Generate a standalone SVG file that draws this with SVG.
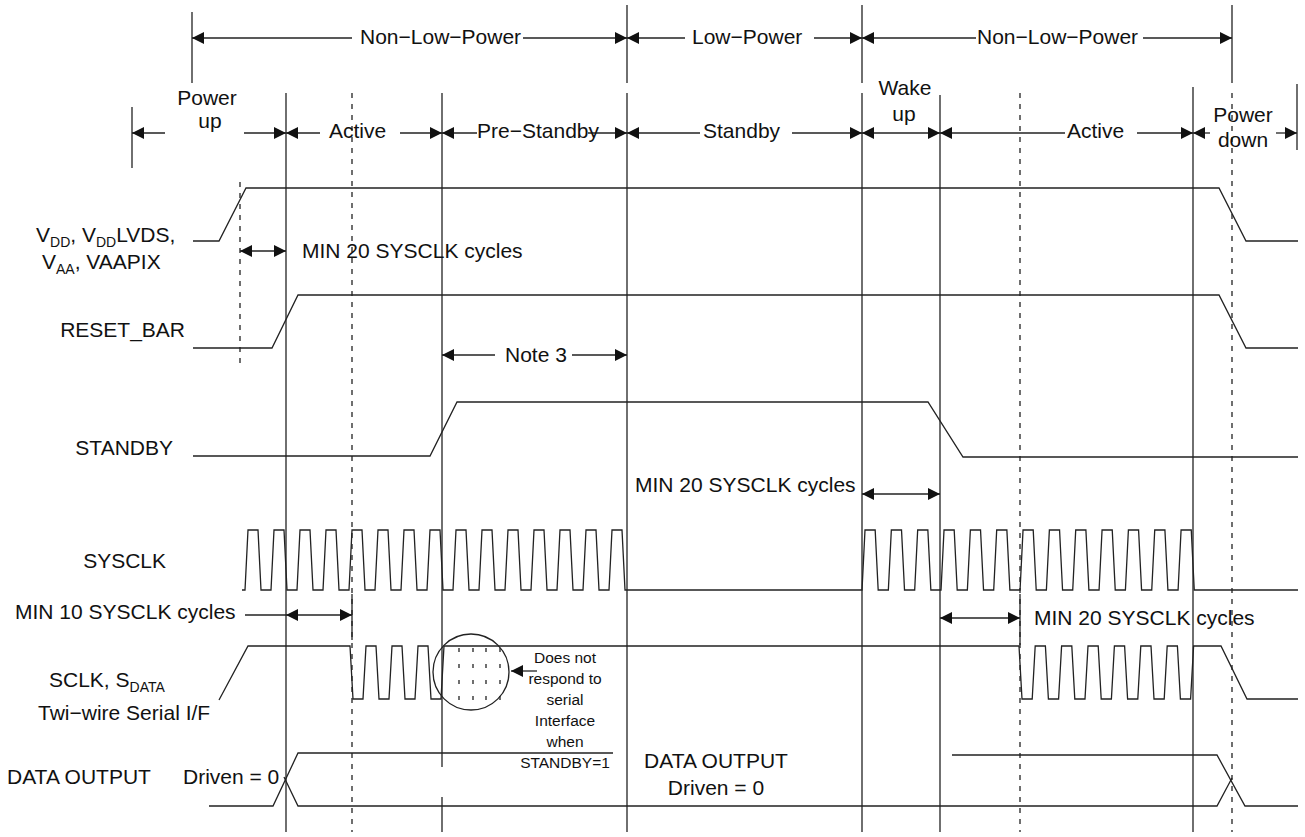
<svg xmlns="http://www.w3.org/2000/svg" width="1305" height="837" viewBox="0 0 1305 837">
<style>
.ln{stroke:#222;stroke-width:1.3;fill:none}
.dsh{stroke-dasharray:5 6}
.t{font-family:"Liberation Sans",Arial,Helvetica,sans-serif;font-size:21px;fill:#111}
.ts{font-size:15.5px}
.ar{stroke:#222;stroke-width:1.3;fill:none}
.s{marker-start:url(#ah)}
.e{marker-end:url(#ah)}
</style>
<defs>
<marker id="ah" viewBox="0 0 12 12" refX="12" refY="6" markerWidth="12" markerHeight="12" markerUnits="userSpaceOnUse" orient="auto-start-reverse">
<path d="M0,0 L12,6 L0,12 z" fill="#111"/>
</marker>
</defs>
<rect width="1305" height="837" fill="#fff"/>

<g id="grid">
<line class="ln" x1="192" y1="12" x2="192" y2="83"/>
<line class="ln" x1="627" y1="5" x2="627" y2="83"/>
<line class="ln" x1="862" y1="5" x2="862" y2="83"/>
<line class="ln" x1="1232" y1="5" x2="1232" y2="83"/>
<line class="ln" x1="132" y1="107" x2="132" y2="168"/>
<line class="ln" x1="1297" y1="84" x2="1297" y2="150"/>
<line class="ln" x1="286" y1="93" x2="286" y2="832"/>
<line class="ln" x1="442" y1="93" x2="442" y2="767"/>
<line class="ln" x1="442" y1="797" x2="442" y2="832"/>
<line class="ln" x1="627" y1="93" x2="627" y2="832"/>
<line class="ln" x1="862" y1="93" x2="862" y2="832"/>
<line class="ln" x1="940" y1="95" x2="940" y2="832"/>
<line class="ln" x1="1193" y1="87" x2="1193" y2="832"/>
<line class="ln dsh" x1="352" y1="93" x2="352" y2="832"/>
<line class="ln dsh" x1="1020" y1="93" x2="1020" y2="832"/>
<line class="ln dsh" x1="1232" y1="93" x2="1232" y2="832"/>
<line class="ln dsh" x1="240" y1="182" x2="240" y2="365"/>
<line class="ln" x1="352" y1="594" x2="352" y2="640"/>
<line class="ln" x1="1020" y1="594" x2="1020" y2="645"/>
</g>

<g id="connectors">
<line class="ar s" x1="192" y1="38" x2="352" y2="38"/>
<line class="ar e" x1="523" y1="38" x2="627" y2="38"/>
<line class="ar s" x1="627" y1="38" x2="685" y2="38"/>
<line class="ar e" x1="814" y1="38" x2="862" y2="38"/>
<line class="ar s" x1="862" y1="38" x2="976" y2="38"/>
<line class="ar e" x1="1143" y1="38" x2="1232" y2="38"/>

<line class="ar s" x1="132" y1="133" x2="165" y2="133"/>
<line class="ar e" x1="244" y1="133" x2="286" y2="133"/>
<line class="ar s" x1="286" y1="133" x2="320" y2="133"/>
<line class="ar e" x1="400" y1="133" x2="442" y2="133"/>
<line class="ar s" x1="442" y1="133" x2="477" y2="133"/>
<line class="ar e" x1="588" y1="133" x2="627" y2="133"/>
<line class="ar s" x1="627" y1="133" x2="700" y2="133"/>
<line class="ar e" x1="792" y1="133" x2="862" y2="133"/>
<line class="ar s e" x1="862" y1="133" x2="940" y2="133"/>
<line class="ar s" x1="940" y1="133" x2="1065" y2="133"/>
<line class="ar e" x1="1137" y1="133" x2="1193" y2="133"/>
<line class="ar s" x1="1193" y1="133" x2="1210" y2="133"/>
<line class="ar e" x1="1276" y1="133" x2="1297" y2="133"/>

<line class="ar s e" x1="240" y1="251" x2="286" y2="251"/>
<line class="ar s" x1="442" y1="355" x2="495" y2="355"/>
<line class="ar e" x1="572" y1="355" x2="627" y2="355"/>
<line class="ar s e" x1="862" y1="494" x2="940" y2="494"/>
<line class="ar" x1="245" y1="615" x2="286" y2="615"/>
<line class="ar s e" x1="286" y1="615" x2="352" y2="615"/>
<line class="ar s e" x1="940" y1="618" x2="1020" y2="618"/>
<line class="ar s" x1="511" y1="671" x2="537" y2="671"/>
</g>

<g id="sig-vdd">
<path class="ln" d="M193,241 H219 L246,188 H1219 L1246,241 H1298"/>
</g>
<g id="sig-reset">
<path class="ln" d="M193,348 H272 L298,295 H1219 L1246,348 H1298"/>
</g>
<g id="sig-standby">
<path class="ln" d="M193,456 H430 L457,402 H928 L963,457 H1298"/>
</g>
<g id="sig-sysclk">
<path class="ln" d="M242,590 H245
l3,-60 h10 l3,60 h10 l3,-60 h10 l3,60 h10 l3,-60 h10 l3,60 h10 l3,-60 h10 l3,60 h10 l3,-60 h10 l3,60 h10
l3,-60 h10 l3,60 h10 l3,-60 h10 l3,60 h10 l3,-60 h10 l3,60 h10 l3,-60 h10 l3,60 h10 l3,-60 h10 l3,60 h10
l3,-60 h10 l3,60 h10 l3,-60 h10 l3,60 h10 l3,-60 h10 l3,60 h10 l3,-60 h10 l3,60 h10 l3,-60 h10 l3,60 h10
H862
l3,-60 h10.17 l3,60 h10.17 l3,-60 h10.17 l3,60 h10.17 l3,-60 h10.17 l3,60 h10.17 l3,-60 h10.17 l3,60 h10.17
l3,-60 h10.17 l3,60 h10.17 l3,-60 h10.17 l3,60 h10.17 l3,-60 h10.17 l3,60 h10.17 l3,-60 h10.17 l3,60 h10.17
l3,-60 h10.17 l3,60 h10.17 l3,-60 h10.17 l3,60 h10.17 l3,-60 h10.17 l3,60 h10.17 l3,-60 h10.17 l3,60 h10.17
l3,-60 h10.17 l3,60 h10.17
H1298"/>
</g>
<g id="sig-sclk">
<path class="ln" d="M219,700 L248,646 H350
l3,53 h10 l3,-53 h10 l3,53 h10 l3,-53 h10 l3,53 h10 l3,-53 h10 l3,53 h10 l3,-53 h10
H1019
l3,53 h10.2 l3,-53 h10.2 l3,53 h10.2 l3,-53 h10.2 l3,53 h10.2 l3,-53 h10.2 l3,53 h10.2 l3,-53 h10.2
l3,53 h10.2 l3,-53 h10.2 l3,53 h10.2 l3,-53 h10.2 l3,53 h10.2 l3,-53 h10.2
H1221 L1247,699 H1298"/>
<circle class="ln" cx="471" cy="672" r="38"/>
<g class="ln" stroke-dasharray="4 12">
<line x1="459" y1="648" x2="459" y2="701"/>
<line x1="473" y1="648" x2="473" y2="701"/>
<line x1="486" y1="648" x2="486" y2="701"/>
<line x1="500" y1="648" x2="500" y2="701"/>
</g>
</g>
<g id="sig-data">
<path class="ln" d="M209,806 H273 L298,753 H613"/>
<path class="ln" d="M284,777 L298,806 H1217 L1232,778"/>
<path class="ln" d="M952,755 H1217 L1245,806 H1298"/>
</g>

<g id="labels" class="t">
<text x="360" y="44">Non−Low−Power</text>
<text x="692" y="44">Low−Power</text>
<text x="977" y="44">Non−Low−Power</text>
<text x="207" y="105" text-anchor="middle">Power</text>
<text x="210" y="128" text-anchor="middle">up</text>
<text x="329" y="138">Active</text>
<text x="477" y="138">Pre−Standby</text>
<text x="703" y="138">Standby</text>
<text x="905" y="95" text-anchor="middle">Wake</text>
<text x="904" y="121" text-anchor="middle">up</text>
<text x="1067" y="138">Active</text>
<text x="1243" y="122" text-anchor="middle">Power</text>
<text x="1243" y="147" text-anchor="middle">down</text>

<text x="36" y="242">V<tspan font-size="14" dy="5">DD</tspan><tspan dy="-5">, V</tspan><tspan font-size="14" dy="5">DD</tspan><tspan dy="-5">LVDS,</tspan></text>
<text x="42" y="269">V<tspan font-size="14" dy="5">AA</tspan><tspan dy="-5">, VAAPIX</tspan></text>
<text x="302" y="258">MIN 20 SYSCLK cycles</text>
<text x="185" y="337" text-anchor="end">RESET_BAR</text>
<text x="505" y="362">Note 3</text>
<text x="173" y="455" text-anchor="end">STANDBY</text>
<text x="635" y="492">MIN 20 SYSCLK cycles</text>
<text x="166" y="568" text-anchor="end">SYSCLK</text>
<text x="15" y="619">MIN 10 SYSCLK cycles</text>
<text x="1034" y="625">MIN 20 SYSCLK cycles</text>
<text x="49" y="687">SCLK, S<tspan font-size="14" dy="5">DATA</tspan></text>
<text x="38" y="720">Twi−wire Serial I/F</text>
<text x="7" y="784">DATA OUTPUT</text>
<text x="183" y="784">Driven = 0</text>
<text x="716" y="768" text-anchor="middle">DATA OUTPUT</text>
<text x="716" y="795" text-anchor="middle">Driven = 0</text>
<g class="ts" text-anchor="middle">
<text x="565" y="663">Does not</text>
<text x="565" y="684">respond to</text>
<text x="565" y="705">serial</text>
<text x="565" y="726">Interface</text>
<text x="565" y="747">when</text>
<text x="565" y="768">STANDBY=1</text>
</g>
</g>
</svg>
